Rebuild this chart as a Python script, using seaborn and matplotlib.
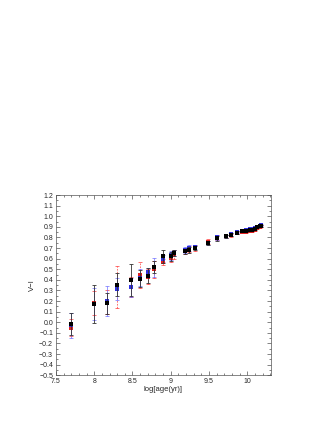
import numpy as np
import pandas as pd
import matplotlib
matplotlib.use("Agg")
import matplotlib.pyplot as plt
from matplotlib.ticker import MultipleLocator, FuncFormatter
import seaborn as sns

# ---- data ----
log_age = [7.70, 8.00, 8.17, 8.30, 8.48, 8.60, 8.70, 8.78, 8.90, 9.00, 9.04,
           9.18, 9.24, 9.31, 9.48, 9.61, 9.72, 9.79, 9.86, 9.93, 9.98, 10.03,
           10.06, 10.10, 10.13, 10.16, 10.18]

vi_black = [-0.02, 0.175, 0.18, 0.355, 0.40, 0.41, 0.44, 0.52, 0.62, 0.62, 0.65,
            0.67, 0.68, 0.70, 0.75, 0.79, 0.81, 0.825, 0.845, 0.86, 0.865, 0.87,
            0.87, 0.88, 0.895, 0.905, 0.91]
err_black = [0.105, 0.18, 0.10, 0.105, 0.15, 0.08, 0.07, 0.06, 0.06, 0.04, 0.03,
             0.025, 0.025, 0.02, 0.02, 0.02, 0.015, 0.015, 0.012, 0.01, 0.01, 0.01,
             0.01, 0.01, 0.01, 0.01, 0.01]

vi_red = [-0.05, 0.18, 0.19, 0.33, 0.33, 0.445, 0.43, 0.50, 0.57, 0.61, 0.64,
          0.67, 0.69, 0.70, 0.76, 0.80, 0.81, 0.82, 0.84, 0.85, 0.855, 0.86,
          0.865, 0.87, 0.885, 0.895, 0.905]
err_red = [0.08, 0.115, 0.115, 0.20, 0.095, 0.12, 0.07, 0.08, 0.03, 0.04, 0.04,
           0.03, 0.03, 0.025, 0.025, 0.025, 0.015, 0.015, 0.012, 0.01, 0.01, 0.01,
           0.01, 0.01, 0.01, 0.01, 0.01]

vi_blue = [-0.03, 0.17, 0.20, 0.31, 0.33, 0.42, 0.47, 0.52, 0.60, 0.63, 0.65,
           0.68, 0.70, 0.71, 0.75, 0.80, 0.81, 0.83, 0.85, 0.865, 0.87, 0.875,
           0.875, 0.885, 0.90, 0.91, 0.915]
err_blue = [0.12, 0.15, 0.14, 0.105, 0.09, 0.08, 0.04, 0.09, 0.03, 0.04, 0.03,
            0.03, 0.025, 0.02, 0.02, 0.02, 0.015, 0.015, 0.012, 0.01, 0.01, 0.01,
            0.01, 0.01, 0.01, 0.01, 0.01]

x_label = "log[age(yr)]"
y_label = "V\u2212I"

# ---- plotting ----
sns.set_style("ticks")
plt.rcParams['font.family'] = ['Liberation Sans', 'DejaVu Sans']

fig = plt.figure(figsize=(3.27, 4.23), dpi=100)
ax = fig.add_axes([0.171, 0.113, 0.658, 0.426])

df_r = pd.DataFrame({"x": log_age, "y": vi_red, "e": err_red})
df_b = pd.DataFrame({"x": log_age, "y": vi_blue, "e": err_blue})
df_k = pd.DataFrame({"x": log_age, "y": vi_black, "e": err_black})

# red (dashed error bars)
eb = ax.errorbar(df_r.x, df_r.y, yerr=df_r.e, fmt="none", ecolor="#ff3030",
                 elinewidth=0.6, capsize=1.3, capthick=0.6, alpha=0.8, zorder=2)
eb[2][0].set_linestyle((0, (2, 1.5)))
sns.scatterplot(data=df_r, x="x", y="y", ax=ax, color="#e02020", marker="s",
                s=5, linewidth=0, zorder=3)

# blue
ax.errorbar(df_b.x, df_b.y, yerr=df_b.e, fmt="none", ecolor="#6a6aff",
            elinewidth=0.6, capsize=1.3, capthick=0.6, alpha=0.8, zorder=2)
sns.scatterplot(data=df_b, x="x", y="y", ax=ax, color="#3030e0", marker="s",
                s=5, linewidth=0, zorder=3)

# black
ax.errorbar(df_k.x, df_k.y, yerr=df_k.e, fmt="none", ecolor="#333333",
            elinewidth=0.6, capsize=1.3, capthick=0.6, zorder=4)
sns.scatterplot(data=df_k, x="x", y="y", ax=ax, color="black", marker="s",
                s=9, linewidth=0, zorder=5)

ax.set_xlim(7.5, 10.31)
ax.set_ylim(-0.5, 1.2)
ax.xaxis.set_major_locator(MultipleLocator(0.5))
ax.xaxis.set_minor_locator(MultipleLocator(0.1))
ax.yaxis.set_major_locator(MultipleLocator(0.1))
ax.yaxis.set_minor_locator(MultipleLocator(0.05))

def xfmt(v, p):
    return "%g" % round(v, 2)

def yfmt(v, p):
    s = "%.1f" % v
    if s == "-0.0":
        s = "0.0"
    return s.replace("-", "\u2212")

ax.xaxis.set_major_formatter(FuncFormatter(xfmt))
ax.yaxis.set_major_formatter(FuncFormatter(yfmt))

ax.tick_params(which="both", direction="in", top=True, right=True,
               labelsize=5, width=0.4, pad=2)
ax.tick_params(which="major", length=3)
ax.tick_params(which="minor", length=1.5)
for s in ax.spines.values():
    s.set_linewidth(0.5)
    s.set_color("#555555")

ax.set_xlabel(x_label, fontsize=5.5, labelpad=1)
ax.set_ylabel(y_label, fontsize=5.5, labelpad=2)

fig.savefig("out.png", dpi=100)
